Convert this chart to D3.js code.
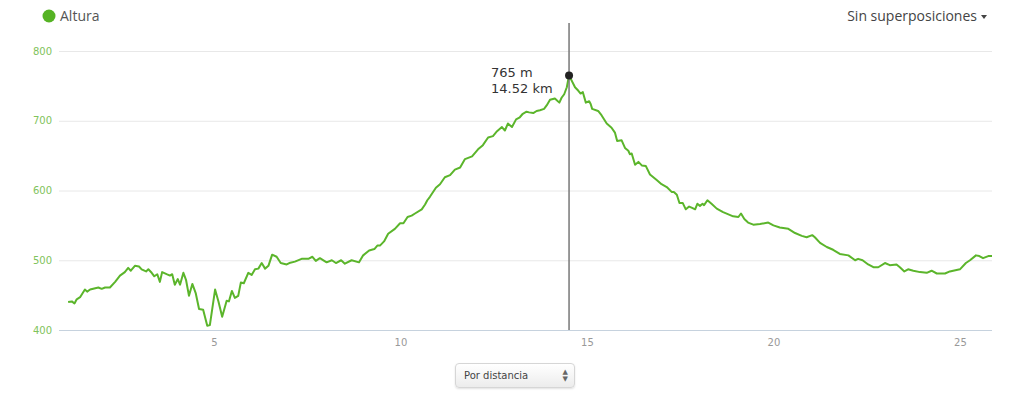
<!DOCTYPE html>
<meta charset="utf-8">
<head>
<script src="https://cdnjs.cloudflare.com/ajax/libs/d3/7.8.5/d3.min.js"></script>
<style>
body { margin:0; background:#fff; font-family:"Open Sans", sans-serif; }
#chart { position:relative; width:1024px; height:398px; }
#modo {
  position:absolute; left:455px; top:363px; width:120px; height:25px;
  box-sizing:border-box; border:1px solid #d6d6d6; border-radius:4px;
  background:linear-gradient(#ffffff 0%, #ececec 100%);
  box-shadow:0 1px 2px rgba(0,0,0,0.12);
  font-family:"DejaVu Sans", sans-serif; font-size:10px; color:#444;
  padding:6px 0 0 8px;
}
#modo .flechas { position:absolute; right:6px; top:5px; font-size:7px; line-height:7px; color:#666; }
</style>
</head>
<body>
<div id="chart">
  <div id="modo">Por distancia<div class="flechas">&#9650;<br>&#9660;</div></div>
</div>
<script>

var distancias = [1.09,1.19,1.26,1.32,1.41,1.54,1.60,1.68,1.90,1.99,2.08,2.21,2.35,2.48,2.61,2.70,2.77,2.88,2.99,3.06,
  3.18,3.24,3.33,3.40,3.48,3.55,3.61,3.73,3.82,3.88,3.95,4.03,4.09,4.18,4.25,4.33,4.42,4.51,4.60,4.71,
  4.82,4.89,5.03,5.12,5.22,5.34,5.40,5.48,5.56,5.65,5.72,5.80,5.92,6.01,6.10,6.19,6.28,6.37,6.46,6.56,
  6.68,6.79,6.95,7.02,7.17,7.35,7.53,7.64,7.73,7.84,8.02,8.16,8.27,8.41,8.51,8.69,8.89,9.00,9.16,9.30,
  9.38,9.45,9.56,9.67,9.85,9.99,10.08,10.19,10.30,10.39,10.57,10.66,10.72,10.79,10.95,11.06,11.19,11.33,11.46,11.60,
  11.73,11.92,12.08,12.21,12.35,12.48,12.59,12.72,12.80,12.88,12.99,13.10,13.20,13.28,13.38,13.45,13.56,13.65,13.74,13.85,
  13.92,14.01,14.14,14.26,14.32,14.39,14.46,14.52,14.68,14.77,14.83,14.89,14.97,15.06,15.10,15.14,15.30,15.39,15.53,15.66,
  15.75,15.81,15.93,16.02,16.11,16.15,16.20,16.29,16.38,16.47,16.58,16.69,16.87,17.00,17.14,17.27,17.33,17.41,17.48,17.57,
  17.65,17.74,17.82,17.90,17.96,18.03,18.10,18.14,18.23,18.34,18.48,18.65,18.92,19.06,19.13,19.22,19.32,19.46,19.64,19.86,
  20.00,20.17,20.40,20.58,20.76,20.89,21.04,21.11,21.25,21.43,21.60,21.78,22.01,22.19,22.27,22.39,22.54,22.68,22.81,22.99,
  23.12,23.30,23.39,23.51,23.61,23.75,23.93,24.11,24.24,24.38,24.60,24.73,25.00,25.16,25.27,25.43,25.52,25.62,25.76,25.86];
var alturas = [440,441,438,444,447,458,455,458,461,459,461,461,469,478,483,489,485,492,491,487,
  484,487,482,477,480,469,483,480,478,480,465,473,465,482,472,449,466,453,430,429,
  406,407,458,441,419,442,441,456,446,449,468,467,482,479,487,488,496,488,492,508,
  505,496,494,496,498,502,502,505,499,503,497,500,496,500,495,500,497,507,514,516,
  521,521,527,538,545,553,553,562,564,567,573,580,586,591,604,609,619,622,630,633,
  645,649,659,665,676,678,685,691,686,696,691,702,705,710,713,712,711,714,715,717,
  722,730,732,726,733,738,748,765,748,743,739,741,726,728,724,717,714,708,696,690,
  683,671,672,661,657,652,653,637,641,636,635,623,615,609,605,598,598,594,582,582,
  573,577,575,573,581,578,581,579,586,581,574,569,563,562,567,559,554,551,552,554,
  550,547,545,539,535,533,536,533,525,519,515,509,507,500,502,500,494,490,490,496,
  493,494,490,484,487,485,483,482,485,481,481,484,487,496,500,507,506,503,506,506];

var yTicks = [400, 500, 600, 700, 800];
var xTicks = [5, 10, 15, 20, 25];
var puntoSel = 127; // 765 m / 14.52 km

var width = 1024, height = 398;
var plotLeft = 59, plotRight = 992, plotTop = 51, plotBottom = 330;

var svg = d3.select('#chart').insert('svg', '#modo')
            .attr('width', width)
            .attr('height', height)
            .style('position', 'absolute').style('left', 0).style('top', 0);

var x = d3.scaleLinear().domain([0.845, 25.86]).range([plotLeft, plotRight]);
var y = d3.scaleLinear().domain([400, 800]).range([plotBottom, plotTop]);

// lineas de fondo
svg.append('g').selectAll('line')
   .data(yTicks)
   .enter().append('line')
   .attr('x1', plotLeft).attr('x2', plotRight)
   .attr('y1', function(d){ return y(d) + 0.5; })
   .attr('y2', function(d){ return y(d) + 0.5; })
   .style('stroke', function(d){ return d == 400 ? '#c6d2de' : '#e8e8e8'; })
   .style('stroke-width', 1);

// eje y
var yAxis = svg.append('g')
   .attr('transform', 'translate(' + (plotLeft - 7) + ',0)')
   .call(d3.axisLeft(y).tickValues(yTicks).tickSize(0).tickPadding(0));
yAxis.select('.domain').remove();
yAxis.selectAll('text')
   .style('font-family', '"DejaVu Sans", sans-serif')
   .style('font-size', '10px')
   .style('fill', '#7fc35c');

// eje x
var xAxis = svg.append('g')
   .attr('transform', 'translate(0,' + plotBottom + ')')
   .call(d3.axisBottom(x).tickValues(xTicks).tickSize(0).tickPadding(9));
xAxis.select('.domain').remove();
xAxis.selectAll('text')
   .style('font-family', '"DejaVu Sans", sans-serif')
   .style('font-size', '10px')
   .style('fill', '#999');

// perfil
var datos = distancias.map(function(d, i){ return {km: d, alt: alturas[i]}; });
var linea = d3.line()
   .x(function(d){ return x(d.km); })
   .y(function(d){ return y(d.alt); });

svg.append('path')
   .datum(datos)
   .attr('d', linea)
   .style('fill', 'none')
   .style('stroke', '#5bb52b')
   .style('stroke-width', 2)
   .style('stroke-linejoin', 'round');

// cursor
var sel = datos[puntoSel];
svg.append('line')
   .attr('x1', x(sel.km)).attr('x2', x(sel.km))
   .attr('y1', 23).attr('y2', plotBottom)
   .style('stroke', '#777')
   .style('stroke-width', 1.5);

svg.append('circle')
   .attr('cx', x(sel.km)).attr('cy', y(sel.alt))
   .attr('r', 4)
   .style('fill', '#222');

var tip = svg.append('g')
   .style('font-family', '"DejaVu Sans", sans-serif')
   .style('font-size', '13px')
   .style('fill', '#333')
   .style('stroke', '#fff')
   .style('stroke-width', 3)
   .style('paint-order', 'stroke');
tip.append('text').attr('x', x(sel.km) - 78).attr('y', 77).text(sel.alt + ' m');
tip.append('text').attr('x', x(sel.km) - 78).attr('y', 93).text(sel.km.toFixed(2) + ' km');

// leyenda
svg.append('circle')
   .attr('cx', 49).attr('cy', 16).attr('r', 6.5)
   .style('fill', '#55b324');
svg.append('text')
   .attr('x', 60).attr('y', 21)
   .style('font-size', '14px')
   .style('fill', '#555')
   .text('Altura');

svg.append('text')
   .attr('x', 977).attr('y', 21)
   .attr('text-anchor', 'end')
   .style('font-size', '14px')
   .style('fill', '#444')
   .text('Sin superposiciones');
svg.append('path')
   .attr('d', 'M981,15 L987,15 L984,19 Z')
   .style('fill', '#444');

</script>
</body>
